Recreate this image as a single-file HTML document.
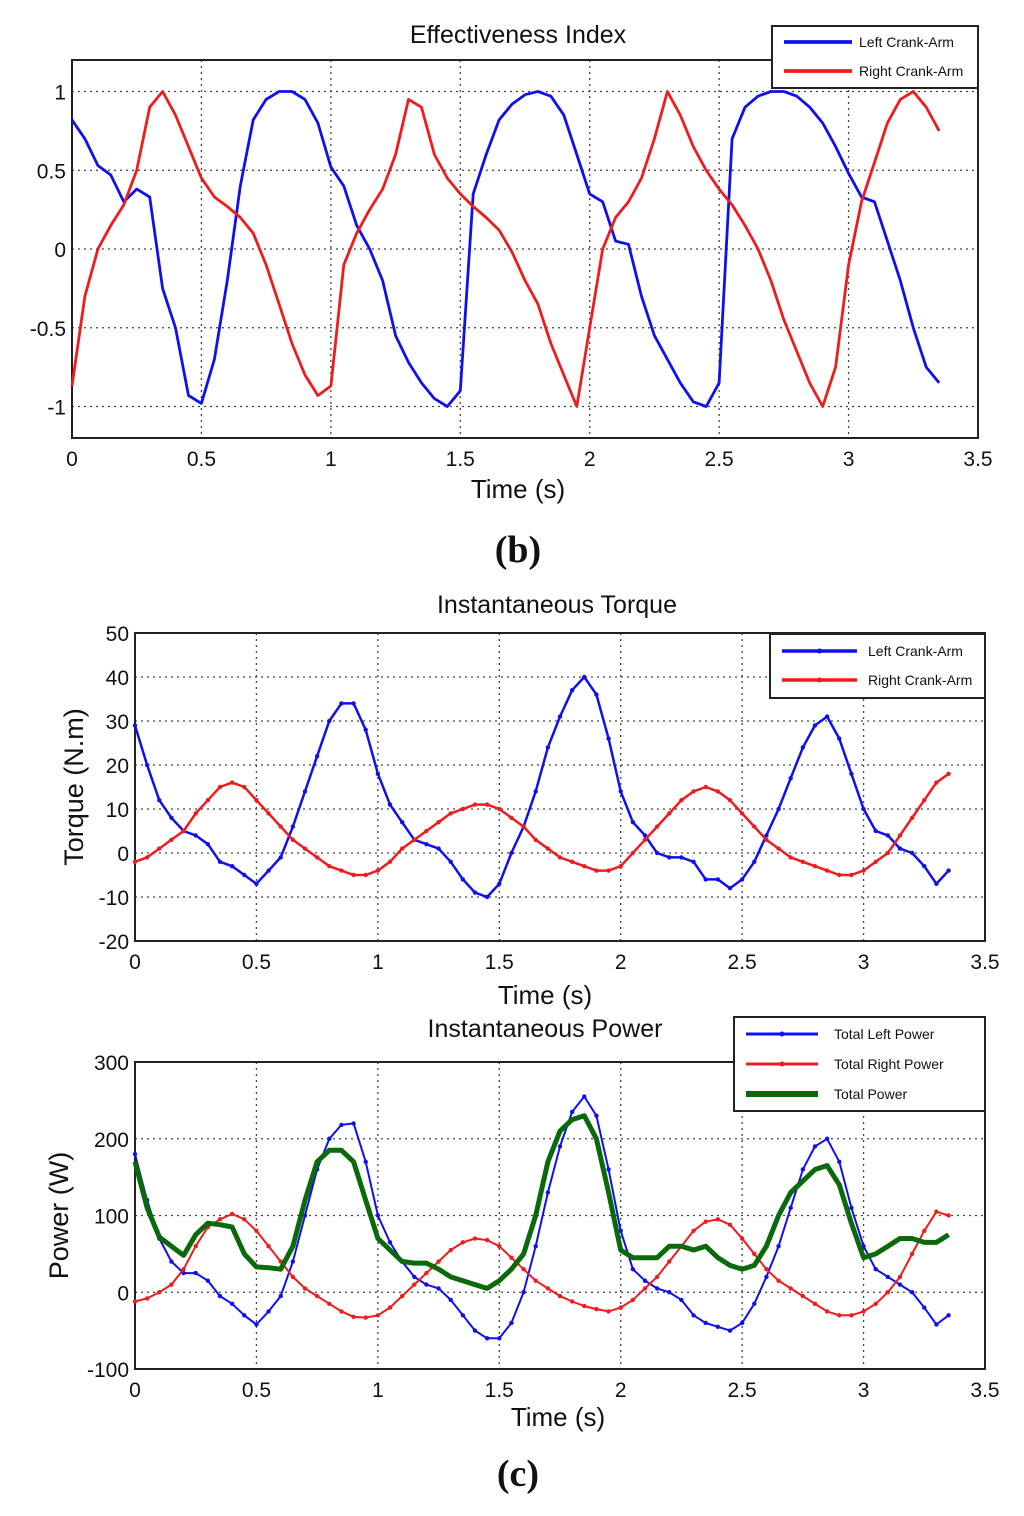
<!DOCTYPE html>
<html><head><meta charset="utf-8"><style>
body{margin:0;background:#fff;width:1024px;height:1516px;overflow:hidden}
svg{display:block}
text{font-family:"Liberation Sans",sans-serif;fill:#111}
</style></head><body>
<svg id="fig" width="1024" height="1516" viewBox="0 0 1024 1516"></svg>
<script>
const times=[0,0.05,0.1,0.15,0.2,0.25,0.3,0.35,0.4,0.45,0.5,0.55,0.6,0.65,0.7,0.75,0.8,0.85,0.9,0.95,1.0,1.05,1.1,1.15,1.2,1.25,1.3,1.35,1.4,1.45,1.5,1.55,1.6,1.65,1.7,1.75,1.8,1.85,1.9,1.95,2.0,2.05,2.1,2.15,2.2,2.25,2.3,2.35,2.4,2.45,2.5,2.55,2.6,2.65,2.7,2.75,2.8,2.85,2.9,2.95,3.0,3.05,3.1,3.15,3.2,3.25,3.3,3.35];
const eiLeft=[0.82,0.7,0.53,0.47,0.3,0.38,0.33,-0.25,-0.5,-0.93,-0.98,-0.7,-0.2,0.4,0.82,0.95,1.0,1.0,0.95,0.8,0.52,0.4,0.15,0.0,-0.2,-0.55,-0.72,-0.85,-0.95,-1.0,-0.9,0.35,0.6,0.82,0.92,0.98,1.0,0.97,0.85,0.6,0.35,0.3,0.05,0.03,-0.3,-0.55,-0.7,-0.85,-0.97,-1.0,-0.85,0.7,0.9,0.97,1.0,1.0,0.97,0.9,0.8,0.65,0.48,0.33,0.3,0.05,-0.2,-0.5,-0.75,-0.85];
const eiRight=[-0.87,-0.3,0.0,0.15,0.28,0.5,0.9,1.0,0.85,0.65,0.45,0.33,0.27,0.2,0.1,-0.1,-0.35,-0.6,-0.8,-0.93,-0.87,-0.1,0.1,0.25,0.38,0.6,0.95,0.9,0.6,0.45,0.35,0.27,0.2,0.12,-0.02,-0.2,-0.35,-0.6,-0.8,-1.0,-0.5,0.0,0.2,0.3,0.45,0.7,1.0,0.85,0.65,0.5,0.38,0.28,0.15,0.0,-0.2,-0.45,-0.65,-0.85,-1.0,-0.75,-0.1,0.3,0.55,0.8,0.95,1.0,0.9,0.75];
const tqLeft=[29,20,12,8,5,4,2,-2,-3,-5,-7,-4,-1,6,14,22,30,34,34,28,18,11,7,3,2,1,-2,-6,-9,-10,-7,0,6,14,24,31,37,40,36,26,14,7,4,0,-1,-1,-2,-6,-6,-8,-6,-2,4,10,17,24,29,31,26,18,10,5,4,1,0,-3,-7,-4];
const tqRight=[-2,-1,1,3,5,9,12,15,16,15,12,9,6,3,1,-1,-3,-4,-5,-5,-4,-2,1,3,5,7,9,10,11,11,10,8,6,3,1,-1,-2,-3,-4,-4,-3,0,3,6,9,12,14,15,14,12,9,6,3,1,-1,-2,-3,-4,-5,-5,-4,-2,0,4,8,12,16,18,16];
const pwLeft=[180,120,70,40,25,25,15,-5,-15,-30,-42,-25,-5,40,100,160,200,218,220,170,100,65,40,20,10,5,-10,-30,-50,-60,-60,-40,0,60,130,190,235,255,230,160,80,30,15,5,0,-10,-30,-40,-45,-50,-40,-15,20,60,110,160,190,200,170,110,60,30,20,10,0,-20,-42,-30];
const pwRight=[-12,-8,0,10,30,60,85,95,102,95,80,60,40,20,5,-5,-15,-25,-32,-33,-30,-20,-5,10,25,40,55,65,70,68,60,45,30,15,5,-5,-12,-18,-22,-25,-20,-10,5,20,40,60,80,92,95,88,70,50,30,15,5,-5,-15,-25,-30,-30,-25,-15,0,20,50,80,105,100];
const pwTotal=[170,110,72,60,48,75,90,88,85,50,33,32,30,60,120,170,185,185,170,120,70,55,40,38,38,30,20,15,10,5,15,30,50,100,170,210,225,230,200,130,55,45,45,45,60,60,55,60,45,35,30,35,60,100,130,145,160,165,140,90,45,50,60,70,70,65,65,75];
const xTicks=[0,0.5,1,1.5,2,2.5,3,3.5];
const xTickLabels=["0","0.5","1","1.5","2","2.5","3","3.5"];
const eiTicks=[-1,-0.5,0,0.5,1];
const eiTickLabels=["-1","-0.5","0","0.5","1"];
const tqTicks=[-20,-10,0,10,20,30,40,50];
const pwTicks=[-100,0,100,200,300];

const NS="http://www.w3.org/2000/svg";
const svg=document.getElementById('fig');
function mk(tag,attrs,parent){const e=document.createElementNS(NS,tag);for(const k in attrs)e.setAttribute(k,attrs[k]);(parent||svg).appendChild(e);return e;}
function txt(s,attrs,parent){const e=mk('text',attrs,parent);e.textContent=s;return e;}

function chart(cfg){
  const g=mk('g',{});
  
  
  const sx=v=>cfg.x0+(v-0)/(3.5)*(cfg.x1-cfg.x0);
  const sy=v=>cfg.y1-(v-cfg.ymin)/(cfg.ymax-cfg.ymin)*(cfg.y1-cfg.y0);
  const grid=mk('g',{},g);
  
  
  xTicks.forEach(t=>{if(t>0&&t<3.5)mk('line',{x1:sx(t),x2:sx(t),y1:cfg.y0,y2:cfg.y1,stroke:'#444','stroke-width':1.3,'stroke-dasharray':'2,4'},grid);});
  cfg.yt.forEach(t=>{if(t>cfg.ymin&&t<cfg.ymax)mk('line',{x1:cfg.x0,x2:cfg.x1,y1:sy(t),y2:sy(t),stroke:'#444','stroke-width':1.3,'stroke-dasharray':'2,4'},grid);});
  mk('rect',{x:cfg.x0,y:cfg.y0,width:cfg.x1-cfg.x0,height:cfg.y1-cfg.y0,fill:'none',stroke:'#222','stroke-width':2},g);
  const xa=mk('g',{},g);
  
  
  xTicks.forEach((t,i)=>{txt(xTickLabels[i],{x:sx(t),y:cfg.y1+28,'text-anchor':'middle','font-size':21},xa);});
  const ya=mk('g',{},g);
  
  
  cfg.yt.forEach((t,i)=>{txt(cfg.ytl[i],{x:cfg.x0-6,y:sy(t)+8,'text-anchor':'end','font-size':21},ya);});
  const xt=txt('Time (s)',{x:cfg.xtX,y:cfg.xtY,'text-anchor':'middle','font-size':26},g);
  
  
  const tt=txt(cfg.title,{x:cfg.titleX,y:cfg.titleY,'text-anchor':'middle','font-size':25},g);
  
  
  if(cfg.ytitle){
    const yt=txt(cfg.ytitle,{x:0,y:0,'text-anchor':'middle','font-size':27,transform:`translate(${cfg.ytX},${(cfg.y0+cfg.y1)/2}) rotate(-90)`},g);
    
    
  }
  cfg.series.forEach(s=>{
    const n=Math.min(times.length,s.v.length);
    let d='';
    for(let i=0;i<n;i++)d+=(i?'L':'M')+sx(times[i]).toFixed(1)+','+sy(s.v[i]).toFixed(1);
    const p=mk('path',{d:d,fill:'none',stroke:s.c,'stroke-width':s.w,'stroke-linejoin':'round'},g);
    
    
    if(s.mk){for(let i=0;i<n;i++){const c=mk('circle',{cx:sx(times[i]),cy:sy(s.v[i]),r:2.2,fill:s.c},g);
      
      }}
  });
  const L=cfg.legend;
  const lg=mk('g',{},g);
  
  
  mk('rect',{x:L.x,y:L.y,width:L.w,height:L.h,fill:'#fff',stroke:'#222','stroke-width':2},lg);
  cfg.series.forEach((s,i)=>{
    const yy=L.y+L.first+i*L.step;
    const e=mk('g',{},lg);
    
    
    mk('line',{x1:L.x+12,x2:L.x+L.lineLen,y1:yy,y2:yy,stroke:s.c,'stroke-width':s.w+1},e);
    if(s.mk)mk('circle',{cx:L.x+12+(L.lineLen-12)/2,cy:yy,r:2.5,fill:s.c},e);
    txt(s.label,{x:L.x+L.textX,y:yy+5,'font-size':14},e);
  });
}

chart({name:'effectiveness-index-chart',x0:72,x1:978,y0:60,y1:438,ymin:-1.2,ymax:1.2,yt:eiTicks,ytl:eiTickLabels,
  title:'Effectiveness Index',titleX:518,titleY:43,xtX:518,xtY:498,
  series:[{name:'left-crank-arm-line',label:'Left Crank-Arm',v:eiLeft,c:'#1010ee',w:2.8},{name:'right-crank-arm-line',label:'Right Crank-Arm',v:eiRight,c:'#ee1c1c',w:2.8}],
  legend:{x:772,y:26,w:206,h:62,first:16,step:29,lineLen:80,textX:87}});
chart({name:'instantaneous-torque-chart',x0:135,x1:985,y0:633,y1:941,ymin:-20,ymax:50,yt:tqTicks,ytl:tqTicks.map(String),
  title:'Instantaneous Torque',titleX:557,titleY:613,xtX:545,xtY:1004,ytitle:'Torque (N.m)',ytX:83,
  series:[{name:'left-crank-arm-line',label:'Left Crank-Arm',v:tqLeft,c:'#1010ee',w:2.5,mk:true},{name:'right-crank-arm-line',label:'Right Crank-Arm',v:tqRight,c:'#ee1c1c',w:2.5,mk:true}],
  legend:{x:770,y:634,w:215,h:64,first:17,step:29,lineLen:87,textX:98}});
chart({name:'instantaneous-power-chart',x0:135,x1:985,y0:1062,y1:1369,ymin:-100,ymax:300,yt:pwTicks,ytl:pwTicks.map(String),
  title:'Instantaneous Power',titleX:545,titleY:1037,xtX:558,xtY:1426,ytitle:'Power (W)',ytX:68,
  series:[{name:'total-left-power-line',label:'Total Left Power',v:pwLeft,c:'#1010ee',w:2,mk:true},{name:'total-right-power-line',label:'Total Right Power',v:pwRight,c:'#ee1c1c',w:2,mk:true},{name:'total-power-line',label:'Total Power',v:pwTotal,c:'#0a6a0a',w:5,mk:false}],
  legend:{x:734,y:1017,w:251,h:94,first:17,step:30,lineLen:84,textX:100}});

const b=txt('(b)',{x:518,y:562,'text-anchor':'middle','font-size':38,'font-weight':'bold'});


b.style.fontFamily='"Liberation Serif",serif';
const c=txt('(c)',{x:518,y:1486,'text-anchor':'middle','font-size':38,'font-weight':'bold'});


c.style.fontFamily='"Liberation Serif",serif';
</script>
</body></html>
